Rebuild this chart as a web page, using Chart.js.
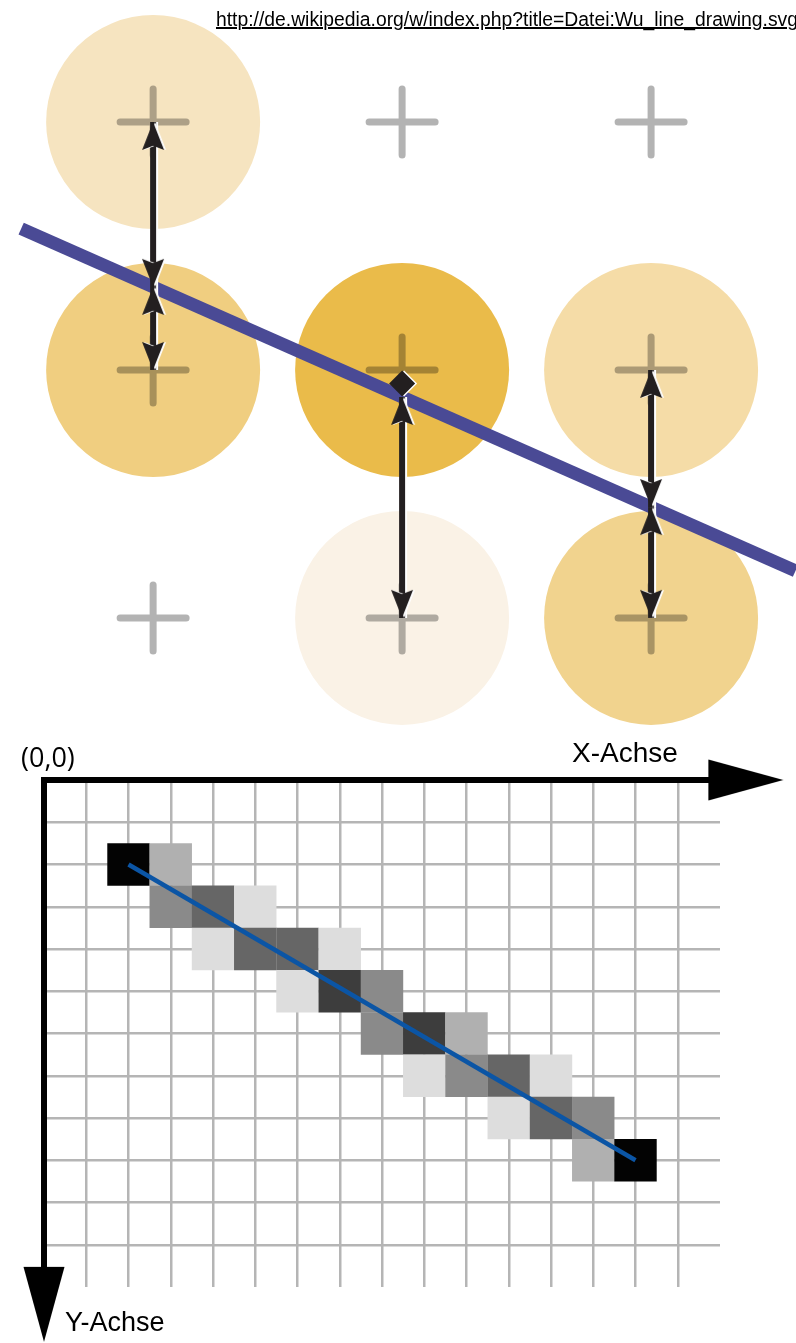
<!DOCTYPE html>
<html>
<head>
<meta charset="utf-8">
<script src="https://cdn.jsdelivr.net/npm/chart.js@4.4.1/dist/chart.umd.min.js"></script>
<style>
  html, body { margin: 0; padding: 0; background: #fff; width: 796px; height: 1343px; overflow: hidden; position: relative; }
  canvas { position: absolute; left: 0; }
  #top { top: 0; }
  #grid { top: 730px; }
  .lbl { position: absolute; white-space: nowrap; line-height: 1; color: #000; }
  #url { left: 216px; top: 8px; font: 20px "Liberation Sans", Arial, sans-serif; text-decoration: underline; transform-origin: 0 0; }
  #origin { left: 21px; top: 738px; font: 27px "Open Sans", sans-serif; }
  #xlab { left: 572px; top: 737px; font: 28px "Liberation Sans", Arial, sans-serif; }
  #ylab { left: 65px; top: 1307px; font: 27px "Liberation Sans", Arial, sans-serif; }
</style>
</head>
<body>
<canvas id="top" width="796" height="730"></canvas>
<canvas id="grid" width="796" height="613"></canvas>
<div class="lbl" id="url">http://de.wikipedia.org/w/index.php?title=Datei:Wu_line_drawing.svg</div>
<div class="lbl" id="origin">(0,0)</div>
<div class="lbl" id="xlab">X-Achse</div>
<div class="lbl" id="ylab">Y-Achse</div>
<script>
(() => {
  // --- upper diagram: 3x3 pixel centres, the ideal line, the distance arrows ---
  const crossX = [0, 1, 2, 0, 1, 2, 0, 1, 2];
  const crossY = [0, 0, 0, 1, 1, 1, 2, 2, 2];

  const dotX = [0, 0, 1, 1, 2, 2];
  const dotY = [0, 1, 1, 2, 1, 2];
  const dotColor = ["#f6e4c0", "#f0ce80", "#eabb4a", "#faf2e6", "#f5dca7", "#f1d38e"];

  const lineX = [-0.53, 2.58];
  const lineY = [0.43, 1.81];

  // column, pixel centre, where the line crosses that column
  const arrowX    = [0, 0, 1, 1, 2, 2];
  const arrowFrom = [0, 1, 1, 2, 1, 2];
  const arrowTo   = [0.665, 0.665, 1.109, 1.109, 1.553, 1.553];

  // --- lower diagram: Wu pixels on a 16 x 12 grid ---
  const pixX = [2, 3, 3, 4, 4, 5, 5, 6, 6, 7, 7, 8, 8, 9, 9, 10, 10, 11, 11, 12, 12, 13, 13, 14];
  const pixY = [2, 2, 3, 3, 4, 3, 4, 4, 5, 4, 5, 5, 6, 6, 7, 6, 7, 7, 8, 7, 8, 8, 9, 9];
  const pixShade = [
    "#030303", "#b0b0b0", "#8a8a8a", "#666666", "#dddddd", "#dddddd", "#666666", "#666666",
    "#dddddd", "#dddddd", "#3d3d3d", "#8a8a8a", "#8a8a8a", "#3d3d3d", "#dddddd", "#b0b0b0",
    "#8a8a8a", "#666666", "#dddddd", "#dddddd", "#666666", "#8a8a8a", "#b0b0b0", "#030303",
  ];
  const wuX = [2, 14];
  const wuY = [2, 9];
  const gridCols = 16;
  const gridRows = 12;
  const axisXLine = [-0.07, 16.5];
  const axisYLine = [-0.07, 12.5];
  const axisXTip = 17.5;
  const axisYTip = 13.3;

  const pts = (xs, ys) => xs.map((x, i) => ({ x, y: ys[i] }));

  function headCanvas(len, half, notch, color) {
    const c = document.createElement("canvas");
    c.width = c.height = 2 * len + 4;
    const g = c.getContext("2d");
    const m = c.width / 2;
    g.fillStyle = color;
    g.beginPath();
    g.moveTo(m, m); // tip sits on the point
    g.lineTo(m + half, m + len);
    g.lineTo(m, m + len * notch);
    g.lineTo(m - half, m + len);
    g.closePath();
    g.fill();
    return c;
  }

  // lets a dataset pick its blend mode, line caps, white edge
  const drawTweaks = {
    id: "drawTweaks",
    beforeDatasetDraw(chart, args) {
      const ds = chart.data.datasets[args.index];
      const ctx = chart.ctx;
      if (ds.blend) ctx.globalCompositeOperation = ds.blend;
      if (ds.cap) ctx.lineCap = ds.cap;
      if (ds.edge) {
        ctx.shadowColor = ds.edge;
        ctx.shadowOffsetX = 2;
        ctx.shadowOffsetY = 0;
        ctx.shadowBlur = 0;
      }
    },
    afterDatasetDraw(chart) {
      const ctx = chart.ctx;
      ctx.globalCompositeOperation = "source-over";
      ctx.lineCap = "butt";
      ctx.shadowColor = "rgba(0,0,0,0)";
      ctx.shadowOffsetX = 0;
    },
  };

  const base = {
    responsive: false,
    animation: false,
    events: [],
    plugins: { legend: { display: false }, tooltip: { enabled: false } },
  };

  // upper chart
  const ink = "#231f20";
  const smallHead = headCanvas(28, 11, 0.85, ink);
  const idx = arrowX.map((_, i) => i);
  const longOnes = idx.filter(i => Math.abs(arrowTo[i] - arrowFrom[i]) > 0.2);
  const shortOnes = idx.filter(i => Math.abs(arrowTo[i] - arrowFrom[i]) <= 0.2);

  const shafts = longOnes.map(i => ({
    type: "line",
    data: [{ x: arrowX[i], y: arrowFrom[i] }, { x: arrowX[i], y: arrowTo[i] }],
    borderColor: ink,
    borderWidth: 6,
    pointRadius: 0,
    clip: false,
    edge: "#ffffff",
    order: 2,
  }));

  const headPts = [];
  const headRot = [];
  for (const i of longOnes) {
    const down = arrowTo[i] > arrowFrom[i];
    headPts.push({ x: arrowX[i], y: arrowFrom[i] });
    headRot.push(down ? 0 : 180);
    headPts.push({ x: arrowX[i], y: arrowTo[i] });
    headRot.push(down ? 180 : 0);
  }

  new Chart(document.getElementById("top"), {
    type: "scatter",
    data: {
      datasets: [
        {
          data: pts(dotX, dotY),
          pointStyle: "circle",
          pointRadius: 107,
          pointBackgroundColor: dotColor,
          pointBorderWidth: 0,
          clip: false,
          order: 5,
        },
        {
          data: pts(crossX, crossY),
          pointStyle: "cross",
          pointRadius: 33,
          pointBorderColor: "#b3b3b3",
          pointBorderWidth: 7,
          blend: "multiply",
          cap: "round",
          clip: false,
          order: 4,
        },
        {
          type: "line",
          data: pts(lineX, lineY),
          borderColor: "#4a4a95",
          borderWidth: 13,
          pointRadius: 0,
          clip: false,
          order: 3,
        },
        ...shafts,
        {
          data: headPts,
          pointStyle: smallHead,
          pointRotation: headRot,
          pointRadius: 2,
          clip: false,
          edge: "#ffffff",
          order: 1,
        },
        {
          data: shortOnes.map(i => ({ x: arrowX[i], y: (arrowFrom[i] + arrowTo[i]) / 2 })),
          pointStyle: "rectRot",
          pointRadius: 13,
          pointBackgroundColor: ink,
          pointBorderWidth: 0,
          clip: false,
          edge: "#ffffff",
          order: 1,
        },
      ],
    },
    options: {
      ...base,
      layout: { padding: 0, autoPadding: false },
      scales: {
        x: { type: "linear", display: false, min: -0.615, max: 2.582 },
        y: { type: "linear", display: false, reverse: true, min: -0.492, max: 2.452 },
      },
    },
    plugins: [drawTweaks],
  });

  // lower chart
  const bigHead = headCanvas(75, 20.5, 1, "#000");
  const gridColor = (edge) => (c) =>
    c.tick && (c.tick.value === 0 || c.tick.value === edge) ? "rgba(0,0,0,0)" : "#b5b5b5";

  new Chart(document.getElementById("grid"), {
    type: "scatter",
    data: {
      datasets: [
        {
          data: pts(pixX, pixY),
          pointStyle: "rect",
          pointRadius: 30,
          pointBackgroundColor: pixShade,
          pointBorderWidth: 0,
          order: 3,
        },
        {
          type: "line",
          data: pts(wuX, wuY),
          borderColor: "#0b55a5",
          borderWidth: 4.5,
          pointRadius: 0,
          order: 2,
        },
        {
          type: "line",
          data: pts(axisXLine, [0, 0]),
          borderColor: "#000",
          borderWidth: 6,
          pointRadius: 0,
          clip: false,
          order: 1,
        },
        {
          type: "line",
          data: pts([0, 0], axisYLine),
          borderColor: "#000",
          borderWidth: 6,
          pointRadius: 0,
          clip: false,
          order: 1,
        },
        {
          data: [{ x: axisXTip, y: 0 }, { x: 0, y: axisYTip }],
          pointStyle: bigHead,
          pointRotation: [90, 180],
          pointRadius: 80,
          clip: false,
          order: 0,
        },
      ],
    },
    options: {
      ...base,
      layout: { padding: { left: 44, right: 76, top: 50, bottom: 56 }, autoPadding: false },
      scales: {
        x: {
          type: "linear", position: "top", min: 0, max: gridCols,
          ticks: { display: false, stepSize: 1 },
          grid: { drawTicks: false, lineWidth: 2.5, color: gridColor(gridCols) },
          border: { display: false },
        },
        y: {
          type: "linear", reverse: true, min: 0, max: gridRows,
          ticks: { display: false, stepSize: 1 },
          grid: { drawTicks: false, lineWidth: 2.5, color: gridColor(gridRows) },
          border: { display: false },
        },
      },
    },
  });

  // the source link is set in a narrow face; squeeze it to the same run length
  const url = document.getElementById("url");
  const w = url.getBoundingClientRect().width;
  url.style.transform = `scaleX(${582 / w})`;
})();
</script>
</body>
</html>
